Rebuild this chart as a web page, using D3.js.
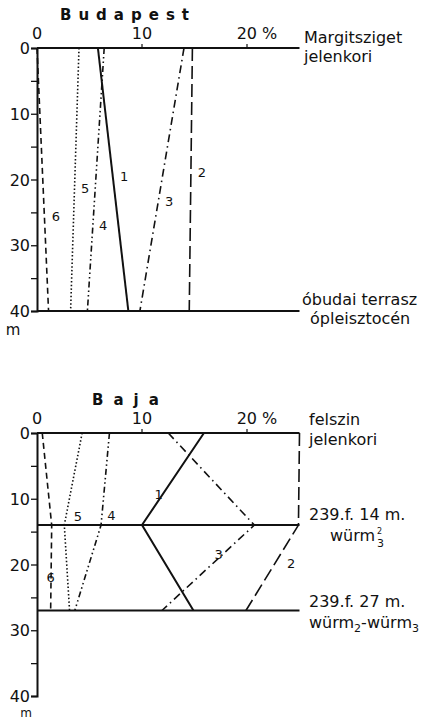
<!DOCTYPE html>
<html>
<head>
<meta charset="utf-8">
<script src="https://cdn.jsdelivr.net/npm/d3@7"></script>
<style>
  body { margin: 0; background: #fff; }
  text { font-family: "DejaVu Sans", sans-serif; fill: #111; }
</style>
</head>
<body>
<div id="chart"></div>
<script>
// series ids
const seriesIds = ["1", "2", "3", "4", "5", "6"];

// Budapest: values (%) at depth 0 and 40 m
const budaDepths = [0, 40];
const buda1 = [5.8, 8.7];
const buda2 = [14.8, 14.5];
const buda3 = [14.0, 9.8];
const buda4 = [6.4, 4.8];
const buda5 = [4.0, 3.2];
const buda6 = [0.0, 1.1];
// label anchors [percent, depth]
const budaLabels = [[7.9, 19.5], [15.3, 19], [12.2, 23.3], [5.9, 27], [4.2, 21.3], [1.4, 25.6]];

// Baja: values (%) at depth 0, 14, 27 m
const bajaDepths = [0, 14, 27];
const baja1 = [15.9, 10.0, 14.9];
const baja2 = [25.0, 24.9, 19.9];
const baja3 = [12.5, 20.7, 11.9];
const baja4 = [6.9, 6.1, 3.6];
const baja5 = [4.3, 2.6, 3.1];
const baja6 = [0.5, 1.4, 1.3];
const bajaLabels = [[11.2, 9.3], [23.8, 19.8], [16.9, 18.5], [6.7, 12.5], [3.5, 12.7], [0.9, 22]];

const depthTicks = [0, 5, 10, 15, 20, 25, 30, 35, 40];
const topTicks = [0, 10, 20];
const topTickLabels = ["0", "10", "20 %"];

const dashes = {
  "1": null,
  "2": "13,5",
  "3": "8,4,1.5,4",
  "4": "6,3,1.5,3,1.5,3",
  "5": "1.5,2.2",
  "6": "6,4"
};

const width = 433, height = 720;
const svg = d3.select("#chart").append("svg")
  .attr("width", width)
  .attr("height", height);

const x = d3.scaleLinear().domain([0, 25]).range([37, 299.5]);

function drawPanel(opts) {
  const y = d3.scaleLinear().domain([0, 40]).range([opts.top, opts.top + 263]);
  const g = svg.append("g");

  // title
  g.append("text")
    .attr("x", opts.titleX)
    .attr("y", opts.top - opts.titleGap)
    .attr("font-size", "15px")
    .attr("font-weight", "bold")
    .attr("letter-spacing", opts.spacing)
    .text(opts.title);

  // top tick labels (the "20 %" is centred on its number)
  g.selectAll(".toplab").data(topTicks).enter().append("text")
    .attr("x", (d, i) => i === 2 ? x(d) + 10 : x(d))
    .attr("y", opts.top - 9)
    .attr("text-anchor", "middle")
    .attr("font-size", "16px")
    .text((d, i) => topTickLabels[i]);

  // small ticks on top axis
  g.selectAll(".ttick").data([10, 20]).enter().append("line")
    .attr("x1", d => x(d)).attr("x2", d => x(d))
    .attr("y1", opts.top).attr("y2", opts.top - 4)
    .attr("stroke", "#111").attr("stroke-width", 1.2);

  // left depth axis
  const axis = d3.axisLeft(y)
    .tickValues(depthTicks)
    .tickSize(6)
    .tickFormat(d => d % 10 === 0 ? d : "");
  const ag = g.append("g")
    .attr("transform", `translate(${x(0)},0)`)
    .call(axis);
  ag.select(".domain").attr("stroke", "#111").attr("stroke-width", 2);
  ag.selectAll(".tick line").attr("stroke", "#111").attr("stroke-width", 1.3);
  ag.selectAll(".tick text")
    .attr("font-family", "DejaVu Sans, sans-serif")
    .attr("font-size", "16px")
    .attr("fill", "#111")
    .attr("x", -7)
    .attr("dy", "0.35em");

  g.append("text")
    .attr("x", opts.mX)
    .attr("y", y(40) + opts.mGap)
    .attr("text-anchor", "middle")
    .attr("font-size", opts.mSize)
    .text("m");

  // horizontal boundary lines
  g.selectAll(".hline").data(opts.hlines).enter().append("line")
    .attr("x1", x(0)).attr("x2", x(25))
    .attr("y1", d => y(d)).attr("y2", d => y(d))
    .attr("stroke", "#111").attr("stroke-width", 2);

  // series
  const line = d3.line().x(d => x(d[0])).y(d => y(d[1]));
  opts.series.forEach((vals, i) => {
    const pts = vals.map((v, j) => [v, opts.depths[j]]);
    g.append("path")
      .attr("d", line(pts))
      .attr("fill", "none")
      .attr("stroke", "#111")
      .attr("stroke-width", i === 0 ? 2 : 1.6)
      .attr("stroke-dasharray", dashes[seriesIds[i]]);
  });

  // series labels
  g.selectAll(".slab").data(opts.labels).enter().append("text")
    .attr("x", d => x(d[0]))
    .attr("y", d => y(d[1]))
    .attr("dy", "0.35em")
    .attr("font-size", "13px")
    .style("fill", "#111")
    .text((d, i) => seriesIds[i]);

  // right-side notes
  opts.notes.forEach(n => {
    const t = g.append("text")
      .attr("x", n.dx)
      .attr("y", y(n.depth) + n.dy)
      .attr("font-size", "16px");
    n.parts.forEach(p => {
      t.append("tspan")
        .attr("font-size", p.size || "16px")
        .attr("dy", p.shift || 0)
        .text(p.t);
    });
  });

  // index marks written as separate small texts
  (opts.marks || []).forEach(m => {
    g.append("text")
      .attr("x", m.dx)
      .attr("y", y(m.depth) + m.dy)
      .attr("font-size", m.size)
      .text(m.t);
  });
}

drawPanel({
  title: "Budapest",
  titleX: 60,
  titleGap: 28,
  spacing: "7px",
  mX: 13,
  mGap: 24,
  mSize: "15px",
  top: 48,
  depths: budaDepths,
  series: [buda1, buda2, buda3, buda4, buda5, buda6],
  labels: budaLabels,
  hlines: [0, 40],
  notes: [
    { dx: 304, depth: 0, dy: -5, parts: [{ t: "Margitsziget" }] },
    { dx: 304, depth: 0, dy: 14, parts: [{ t: "jelenkori" }] },
    { dx: 302, depth: 40, dy: -6, parts: [{ t: "óbudai terrasz" }] },
    { dx: 310, depth: 40, dy: 13, parts: [{ t: "ópleisztocén" }] }
  ]
});

drawPanel({
  title: "Baja",
  titleX: 92,
  titleGap: 28,
  spacing: "10px",
  mX: 26,
  mGap: 21,
  mSize: "12px",
  top: 433,
  depths: bajaDepths,
  series: [baja1, baja2, baja3, baja4, baja5, baja6],
  labels: bajaLabels,
  hlines: [0, 14, 27],
  notes: [
    { dx: 309, depth: 0, dy: -8, parts: [{ t: "felszin" }] },
    { dx: 309, depth: 0, dy: 12, parts: [{ t: "jelenkori" }] },
    { dx: 309, depth: 14, dy: -5, parts: [{ t: "239.f.  14 m." }] },
    { dx: 330, depth: 14, dy: 16, parts: [{ t: "würm" }] },
    { dx: 309, depth: 27, dy: -4, parts: [{ t: "239.f.  27 m." }] },
    { dx: 309, depth: 27, dy: 17, parts: [{ t: "würm" }, { t: "2", size: "11px", shift: 4 }, { t: "-würm", shift: -4 }, { t: "3", size: "11px", shift: 4 }] }
  ],
  marks: [
    { dx: 377, depth: 14, dy: 9, size: "8px", t: "2" },
    { dx: 377, depth: 14, dy: 22, size: "11px", t: "3" }
  ]
});
</script>
</body>
</html>
